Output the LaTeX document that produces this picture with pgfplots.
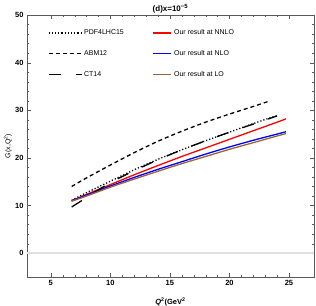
\documentclass[border=0pt]{standalone}
\usepackage{fontspec}
\setmainfont{Liberation Sans}
\usepackage{pgfplots}
\pgfplotsset{compat=1.18}
\definecolor{mbrown}{rgb}{0.6,0.4,0.2}
\pgfplotsset{
  longleg/.style={legend image code/.code={\draw[##1] (0pt,0pt) -- (33pt,0pt);}},
  shortleg/.style={legend image code/.code={\draw[##1] (0pt,0pt) -- (18pt,0pt);}},
}
\begin{document}
\begin{tikzpicture}
\begin{axis}[
  scale only axis, width=287pt, height=262pt,
  xmin=3, xmax=27.1, ymin=-5, ymax=50,
  xtick={5,10,15,20,25}, ytick={0,10,20,30,40,50},
  minor x tick num=4, minor y tick num=4,
  tick align=inside, major tick length=4pt, minor tick length=2pt,
  axis line style={black!65}, tick style={black!65},
  ticklabel style={font=\fontsize{7.5}{9}\selectfont\bfseries},
  /pgf/number format/assume math mode=true,
  title={(d)x=10\textsuperscript{−5}},
  title style={font=\fontsize{8}{10}\selectfont\bfseries, at={(axis description cs:0.5,1)}, anchor=south, yshift=-4.5pt, inner sep=0pt},
  ylabel={G(x,Q\textsuperscript{2})},
  ylabel style={font=\fontsize{7}{9}\selectfont, at={(axis description cs:-0.052,0.5)}, anchor=south, inner sep=0pt},
  xlabel={\textit{Q}\textsuperscript{2}(GeV\textsuperscript{2}},
  xlabel style={font=\fontsize{7.5}{9}\selectfont\bfseries, at={(axis description cs:0.5,-0.08)}, anchor=north, inner sep=0pt},
  legend columns=2,
  legend style={draw=none, fill=none, inner sep=0pt, font=\fontsize{7}{8.5}\selectfont,
    at={(axis description cs:0.072,0.952)}, anchor=north west,
    row sep=10.2pt,
    /tikz/every even column/.append style={column sep=27pt}},
  legend cell align=left,
]
\addplot[black!12, line width=1.5pt, forget plot] coordinates {(3,0) (27.1,0)};

\addplot[black, line width=1.3pt, dash pattern=on 1.2pt off 2pt, smooth, longleg]
  coordinates {(6.75,11.1)(8,12.7)(10,15.1)(12,17.5)(14,19.7)(16,21.7)(18,23.6)(20,25.4)(22,27.2)(24,28.9)};
\addlegendentry{PDF4LHC15}

\addplot[red, line width=1.3pt, smooth, shortleg]
  coordinates {(6.75,11.0)(8,12.35)(10,14.4)(12,16.45)(14,18.4)(16,20.3)(18,22.1)(20,23.9)(22,25.7)(24,27.5)(24.75,28.2)};
\addlegendentry{Our result at NNLO}

\addplot[black, line width=1.3pt, dash pattern=on 4pt off 3pt, smooth, longleg]
  coordinates {(6.75,14.0)(8,15.8)(10,18.5)(12,21.1)(14,23.5)(16,25.6)(18,27.5)(20,29.2)(22,30.8)(23.2,31.8)};
\addlegendentry{ABM12}

\addplot[blue, line width=1.3pt, smooth, shortleg]
  coordinates {(6.75,11.0)(8,12.2)(10,14.1)(12,15.9)(14,17.6)(16,19.2)(18,20.8)(20,22.3)(22,23.7)(24,25.0)(24.75,25.5)};
\addlegendentry{Our result at NLO}

\addplot[black, line width=1.3pt, dash pattern=on 12pt off 15pt, smooth, longleg]
  coordinates {(6.75,9.7)(7.7,11.2)(8.5,12.5)(10,14.8)(12,17.3)(14,19.6)(16,21.7)(18,23.6)(20,25.4)(22,27.1)(24,28.8)};
\addlegendentry{CT14}

\addplot[mbrown, line width=1.3pt, smooth, shortleg]
  coordinates {(6.75,10.9)(8,12.0)(10,13.85)(12,15.55)(14,17.2)(16,18.8)(18,20.3)(20,21.8)(22,23.2)(24,24.6)(24.75,25.1)};
\addlegendentry{Our result at LO}
\end{axis}
\pgfresetboundingbox
\path[use as bounding box] ([xshift=-27pt,yshift=-29pt]current axis.south west) rectangle ([xshift=2pt,yshift=15pt]current axis.north east);
\end{tikzpicture}
\end{document}
